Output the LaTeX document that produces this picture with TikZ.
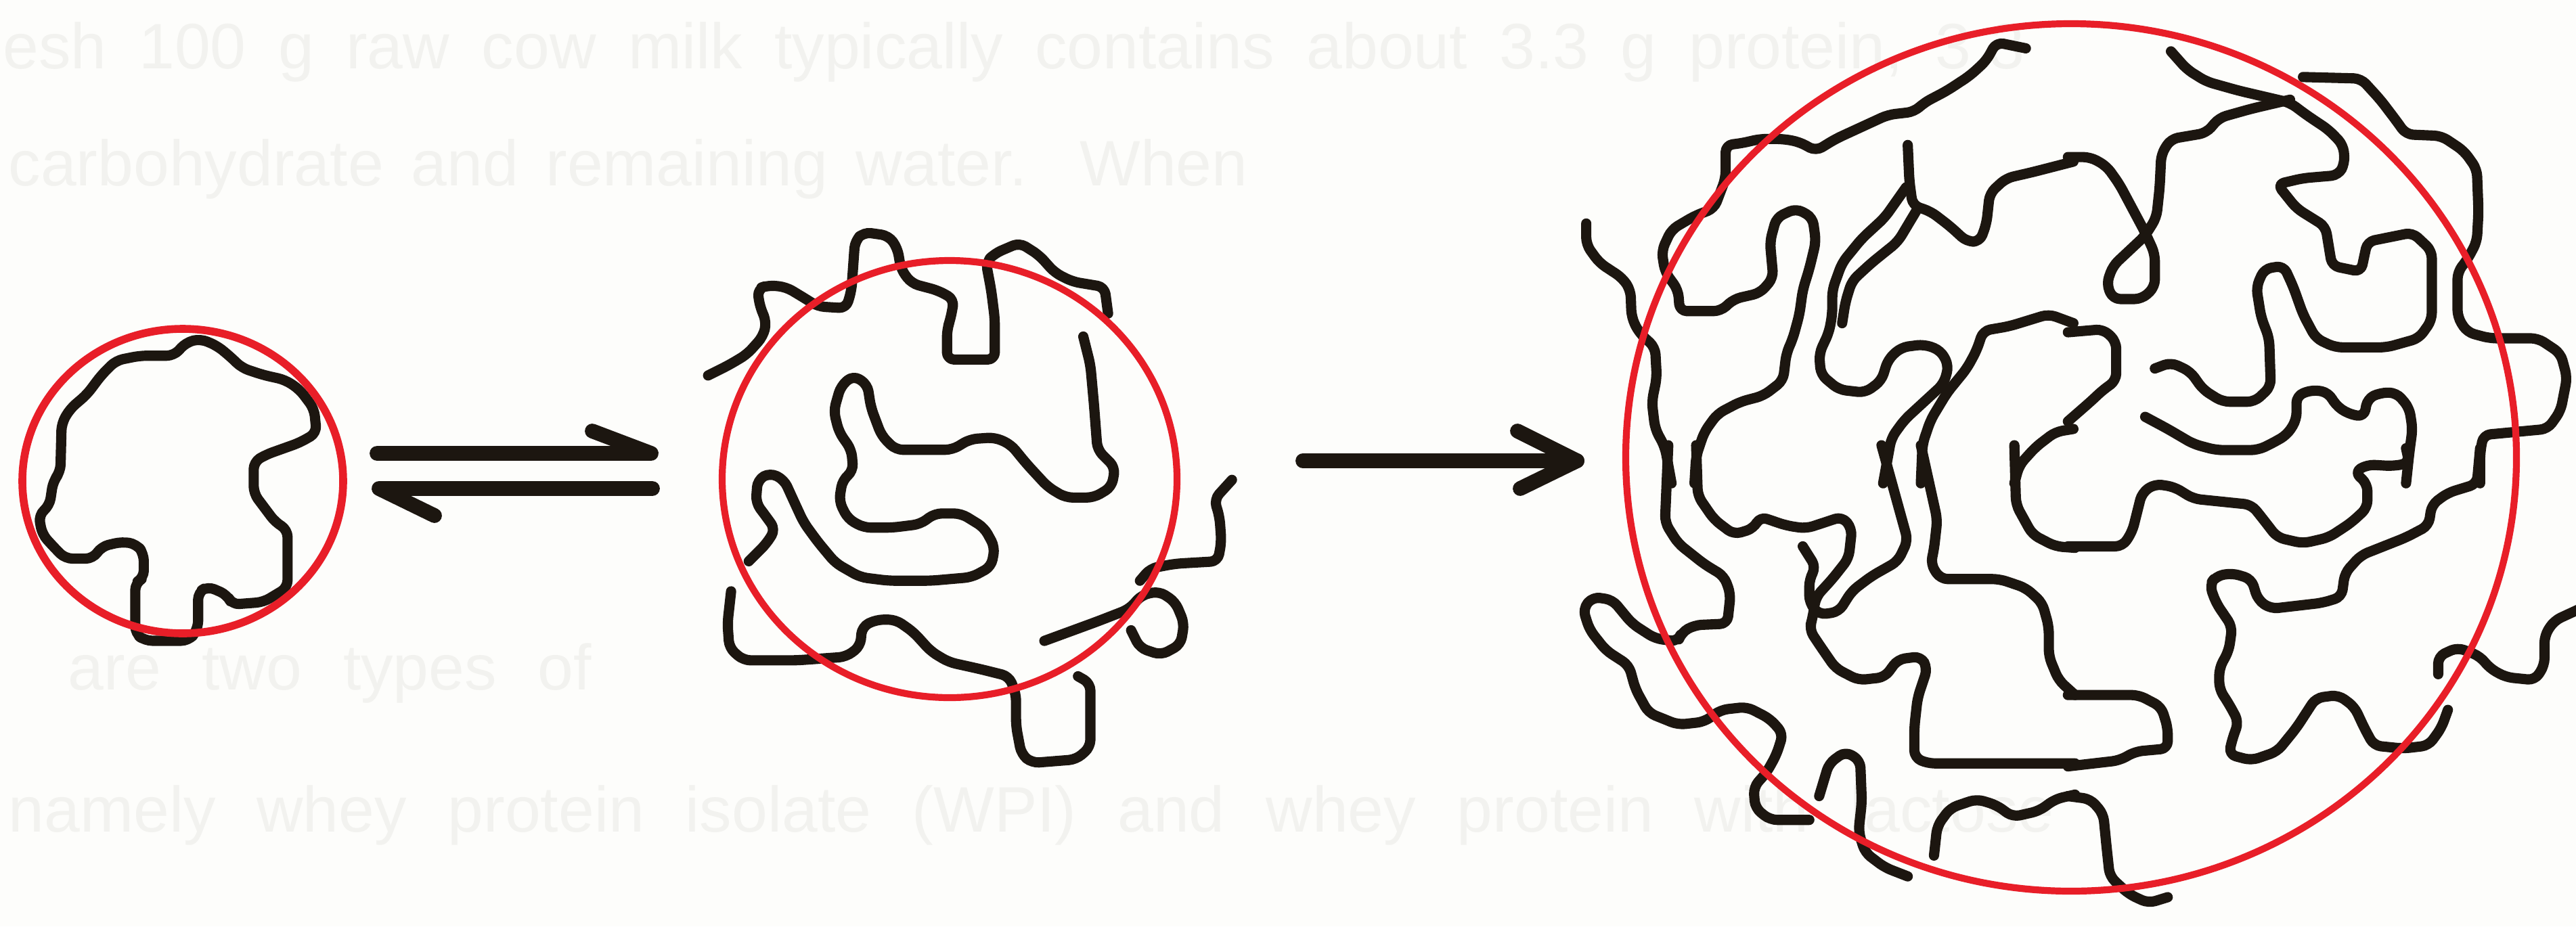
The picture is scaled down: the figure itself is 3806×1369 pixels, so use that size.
\documentclass[tikz,border=0pt]{standalone}
\usepackage{fontspec}
\setmainfont{Liberation Sans}
\definecolor{ink}{RGB}{28,22,16}
\definecolor{shellred}{RGB}{232,30,40}
\definecolor{paper}{RGB}{253,253,251}
\definecolor{ghost}{RGB}{242,242,239}
\newcommand{\widewords}[1]{{\spaceskip=0.64em plus 0.1em\relax #1}}
\newcommand{\looserwords}[1]{{\spaceskip=0.5em plus 0.1em\relax #1}}
\begin{document}
\begin{tikzpicture}[x=0.01cm,y=-0.01cm,
  chainline/.style={draw=ink, line width=4.3pt, line cap=round, line join=round, rounded corners=3pt},
  shell/.style={draw=shellred, line width=2.9pt},
  arrowline/.style={draw=ink, line width=6.2pt, line cap=round, line join=round},
  pagetext/.style={anchor=west, inner sep=0pt, text=ghost, font=\fontsize{27}{32}\selectfont}]
\fill[paper] (0,0) rectangle (3806,1369);
\useasboundingbox (0,0) rectangle (3806,1369);

% ---------- faint page text behind the figure ----------
\node[pagetext] (pageLineA) at (4,77) {\looserwords{esh 100 g raw cow milk typically contains about 3.3 g protein, 3.3}};
\node[pagetext] (pageLineB) at (12,250) {\makebox[18.3cm][s]{carbohydrate and remaining water. When}};
\node[pagetext] (pageLineC) at (100,995) {\widewords{are two types of}};
\node[pagetext] (pageLineD) at (12,1205) {\widewords{namely whey protein isolate (WPI) and whey protein with lactose}};

% ---------- compact coil ----------
\begin{scope}[shift={(0,440)}, scale=0.357]
\draw[chainline] plot coordinates {(820,1340) (820,1220) (860,1195) (940,1230) (960,1270) (1090,1260) (1190,1200) (1190,960) (1140,930) (1050,810) (1050,680) (1100,650) (1240,600) (1310,560) (1300,460) (1240,380) (1180,340) (1090,320) (1000,290) (960,250) (900,200) (830,170) (770,185) (720,240) (580,240) (480,260) (420,320) (360,400) (290,460) (255,520) (250,720) (220,760) (205,860) (160,900) (175,980) (230,1040) (270,1080) (385,1080) (420,1030) (505,1010) (565,1020) (595,1060) (595,1160) (560,1180) (560,1390) (600,1420) (780,1420) (815,1380) (820,1340)};
\end{scope}
\draw[shell, line width=3.3pt] (270,711) ellipse [x radius=237, y radius=225];

% ---------- partly unfolded chain ----------
\begin{scope}[shift={(1020,330)}, scale=0.523]
\draw[chainline] plot coordinates {(50,430) (110,400) (160,370) (205,320) (215,280) (195,230) (190,185) (220,175) (270,180) (320,210) (360,235) (440,240) (455,190) (460,120) (465,50) (490,25) (560,35) (585,70) (595,130) (625,170) (700,190) (745,215) (735,270) (725,300) (725,385) (860,385) (860,270) (850,190) (835,110) (860,85) (930,55) (985,90) (1030,140) (1080,165) (1170,180) (1180,255)};
\draw[chainline] plot coordinates {(1110,320) (1130,400) (1140,510) (1150,640) (1200,690) (1190,745) (1140,775) (1060,775) (1010,745) (950,680) (905,625) (860,605) (790,610) (740,640) (580,640) (540,600) (510,520) (500,455) (460,430) (425,460) (405,530) (420,590) (455,640) (460,700) (430,725) (420,785) (445,835) (490,860) (570,860) (650,850) (690,820) (765,820) (830,860) (860,915) (850,970) (795,1000) (680,1010) (560,1010) (480,1000) (410,960) (360,900) (320,845) (290,780) (265,725) (225,705) (190,725) (185,790) (215,830) (240,865) (215,905) (165,955)};
\draw[chainline] plot coordinates {(115,1040) (105,1130) (110,1200) (150,1235) (300,1235) (440,1225) (480,1195) (485,1140) (525,1120) (580,1120) (630,1155) (680,1210) (730,1240) (820,1260) (900,1280) (920,1330) (920,1420) (935,1500) (965,1525) (1090,1515) (1130,1480) (1130,1380) (1130,1300) (1095,1280)};
\draw[chainline] plot coordinates {(1000,1180) (1150,1125) (1240,1090) (1275,1050) (1325,1040) (1370,1070) (1395,1130) (1385,1190) (1330,1220) (1270,1200) (1245,1150)};
\draw[chainline] plot coordinates {(1270,1010) (1300,975) (1370,962) (1490,955) (1500,900) (1495,830) (1480,780) (1530,725)};
\end{scope}
\draw[shell] (1403,708) ellipse [x radius=336, y radius=323];

% ---------- swollen network: upper left ----------
\begin{scope}[shift={(2300,0)}, xscale=0.4847, yscale=0.4464]
\draw[chainline] plot coordinates {(1430,160) (1340,140) (1310,200) (1260,250) (1190,300) (1120,340) (1090,370) (1010,380) (930,420) (850,460) (790,500) (740,470) (690,460) (620,460) (560,475) (515,480) (515,590) (480,690) (420,715) (350,760) (320,830) (330,900) (370,960) (375,1030) (500,1030) (540,990) (620,970) (660,920) (650,800) (670,720) (730,690) (780,720) (790,800) (770,890) (750,960) (740,1040) (720,1120) (700,1170) (690,1260) (630,1310) (560,1330) (490,1370) (450,1430) (425,1510) (420,1600)};
\draw[chainline] plot coordinates {(90,740) (90,810) (130,870) (200,920) (225,960) (228,1050) (250,1100) (300,1150) (305,1250) (290,1330) (300,1420) (330,1480) (350,1600)};
\draw[chainline] plot coordinates {(1070,480) (1075,600) (1085,680) (1140,700) (1200,750) (1250,800) (1290,800) (1310,740) (1320,640) (1370,590) (1450,570) (1575,535)};
\draw[chainline] plot coordinates {(1065,620) (1000,720) (930,790) (870,870) (840,960) (840,1040) (830,1100) (800,1170) (805,1240) (860,1290) (940,1300) (990,1260) (1010,1190) (1050,1150) (1120,1140) (1170,1160) (1195,1210) (1180,1270) (1120,1330) (1060,1390) (1020,1450) (995,1600)};
\draw[chainline] plot coordinates {(1095,700) (1040,800) (960,870) (900,930) (880,1000) (870,1070)};
\draw[chainline] plot coordinates {(1575,1070) (1500,1040) (1440,1060) (1380,1080) (1300,1095) (1280,1160) (1250,1220) (1190,1300) (1140,1390) (1115,1470) (1110,1600)};
\draw[chainline] plot coordinates {(1575,1420) (1520,1430) (1460,1480) (1410,1540) (1395,1600)};
\end{scope}

% ---------- swollen network: upper right ----------
\begin{scope}[shift={(3060,0)}, xscale=0.4758, yscale=0.4464]
\draw[chainline] plot coordinates {(310,170) (360,230) (420,270) (520,300) (600,320) (680,340) (730,380) (800,430) (845,480) (850,540) (830,580) (720,590) (640,610) (700,690) (790,750) (810,880) (900,900) (920,800) (1060,770) (1120,830) (1120,1060) (1080,1120) (980,1150) (820,1150) (760,1120) (720,1040) (690,950) (660,880) (600,890) (575,950) (590,1050) (615,1120) (620,1280) (570,1330) (470,1330) (410,1290) (370,1230) (310,1200) (260,1220)};
\draw[chainline] plot coordinates {(680,330) (560,360) (460,390) (420,440) (310,460) (280,510) (275,620) (265,720) (230,780) (180,830) (130,880) (110,940) (130,990) (220,990) (260,950) (260,840) (230,770) (190,690) (150,610) (110,550) (60,520) (-10,520)};
\draw[chainline] plot coordinates {(720,255) (900,260) (960,330) (1010,400) (1040,445) (1150,450) (1220,500) (1260,560) (1265,700) (1260,800) (1230,860) (1200,900) (1200,1050) (1230,1100) (1300,1120) (1450,1120) (1520,1170) (1540,1250) (1520,1360) (1480,1420) (1380,1430) (1280,1440) (1270,1500) (1270,1600)};
\draw[chainline] plot coordinates {(-10,1100) (100,1090) (140,1130) (140,1260) (100,1290) (60,1330) (-10,1395)};
\draw[chainline] plot coordinates {(230,1380) (300,1420) (380,1470) (450,1490) (580,1490) (620,1470) (670,1440) (700,1390) (700,1310) (750,1290) (800,1300) (820,1340) (860,1370) (910,1380) (920,1320) (960,1300) (1010,1300) (1050,1350) (1060,1420) (1050,1500) (1040,1600)};
\end{scope}

% ---------- swollen network: lower left ----------
\begin{scope}[shift={(2300,680)}, xscale=0.4847, yscale=0.4394]
\draw[chainline] plot coordinates {(340,-50) (330,210) (370,280) (450,350) (510,390) (530,450) (520,550) (420,555) (380,580) (370,610) (300,600) (230,550) (170,470) (110,460) (80,500) (100,570) (150,640) (220,690) (240,770) (280,850) (370,890) (450,880) (500,840) (580,830) (650,870) (690,920) (670,990) (640,1050) (600,1100) (605,1170) (650,1210) (770,1210)};
\draw[chainline] plot coordinates {(425,-50) (430,120) (480,200) (540,250) (600,230) (620,190) (700,220) (760,230) (870,190) (900,230) (890,330) (840,400) (790,460) (780,530) (770,570) (800,620) (850,700) (920,740) (1000,730) (1040,670) (1110,660) (1130,700) (1100,800) (1090,900) (1090,1000) (1130,1020) (1580,1020)};
\draw[chainline] plot coordinates {(990,-50) (1040,150) (1070,270) (1040,340) (960,390) (900,440) (860,510) (800,520) (770,480) (770,400) (790,360) (750,290)};
\draw[chainline] plot coordinates {(1110,-50) (1140,100) (1160,200) (1150,300) (1140,350) (1170,400) (1350,400) (1430,430) (1480,480) (1500,560) (1500,660) (1530,740) (1580,790)};
\draw[chainline] plot coordinates {(1395,-50) (1400,150) (1450,250) (1520,290) (1580,295)};
\draw[chainline] plot coordinates {(800,1130) (830,1020) (880,980) (925,1010) (930,1150) (920,1250) (940,1320) (1000,1370) (1070,1400)};
\draw[chainline] plot coordinates {(1150,1330) (1160,1230) (1200,1170) (1280,1140) (1340,1160) (1390,1200) (1470,1180) (1520,1140) (1580,1125)};
\end{scope}

% ---------- swollen network: lower right ----------
\begin{scope}[shift={(3060,680)}, xscale=0.4758, yscale=0.4394]
\draw[chainline] plot coordinates {(1040,-40) (1050,10) (1000,20) (920,15) (880,40) (920,80) (920,160) (870,210) (800,260) (720,280) (640,260) (590,190) (560,150) (380,130) (320,90) (260,80) (220,110) (190,240) (160,290) (-10,290)};
\draw[chainline] plot coordinates {(1270,-40) (1260,80) (1170,110) (1120,150) (1110,220) (1040,260) (900,320) (850,380) (840,460) (780,480) (620,500) (580,470) (560,400) (500,380) (450,390) (430,420) (450,480) (500,560) (490,640) (460,700) (460,770) (490,820) (520,880) (500,940) (490,990) (560,1010) (640,980) (700,900) (760,800) (830,790) (880,830) (910,900) (940,960) (1030,970) (1110,960) (1150,900) (1170,840)};
\draw[chainline] plot coordinates {(1140,720) (1140,660) (1200,630) (1270,660) (1300,700) (1350,730) (1440,740) (1470,690) (1470,590) (1500,540) (1580,500)};
\draw[chainline] plot coordinates {(-10,790) (210,790) (280,830) (300,900) (300,970) (200,980) (150,1010) (-10,1030)};
\draw[chainline] plot coordinates {(-10,1130) (60,1140) (100,1190) (110,1300) (120,1400) (180,1460) (240,1490) (300,1470)};
\end{scope}
\draw[shell] (3060,676) ellipse [x radius=658, y radius=641];

% ---------- equilibrium harpoons ----------
\coordinate (eqTopL) at (557,670);
\coordinate (eqTopR) at (962,670);
\coordinate (eqTopBarb) at (875,637);
\coordinate (eqBotL) at (560,722);
\coordinate (eqBotR) at (964,722);
\coordinate (eqBotBarb) at (642,762);
\draw[arrowline] (eqTopL) -- (eqTopR) -- (eqTopBarb);
\draw[arrowline] (eqBotR) -- (eqBotL) -- (eqBotBarb);

% ---------- forward arrow ----------
\coordinate (fwdL) at (1925,681);
\coordinate (fwdR) at (2330,681);
\coordinate (fwdUp) at (2242,637);
\coordinate (fwdDn) at (2246,722);
\draw[arrowline] (fwdL) -- (fwdR);
\draw[arrowline] (fwdUp) -- (fwdR) -- (fwdDn);
\end{tikzpicture}
\end{document}
